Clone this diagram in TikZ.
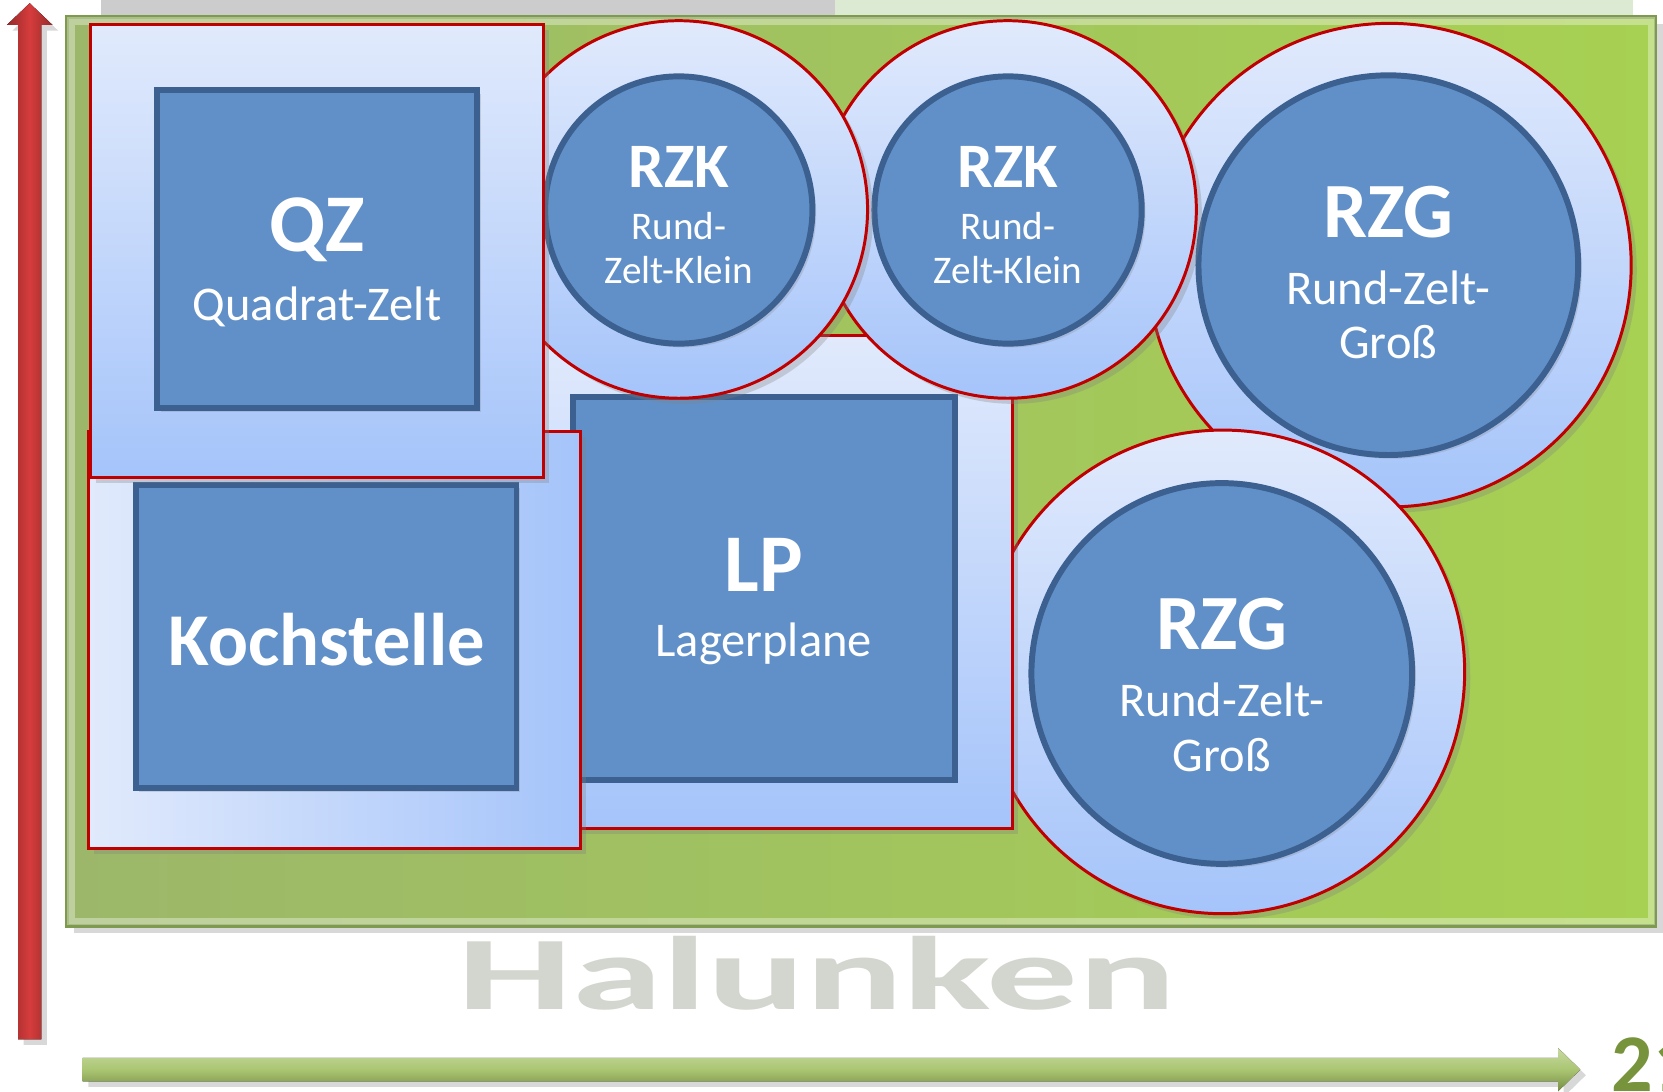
\documentclass[tikz,border=0pt]{standalone}
\usepackage{fontspec}
\setmainfont{Carlito}
\usepackage{graphicx}
\usetikzlibrary{shadows}

\definecolor{zeltrot}{HTML}{C00000}
\definecolor{ringhell}{HTML}{E1EAFC}
\definecolor{ringblau}{HTML}{A5C4FA}
\definecolor{kernblau}{HTML}{6190C8}
\definecolor{kernrand}{HTML}{3C6191}
\definecolor{feldlinks}{HTML}{9CB76A}
\definecolor{feldrechts}{HTML}{A7D152}
\definecolor{feldrand}{HTML}{7E9A4C}
\definecolor{pfeilrot}{HTML}{D63C3C}
\definecolor{pfeilgruen}{HTML}{9BBB59}
\definecolor{olivtext}{HTML}{77933C}
\definecolor{wzgruen}{HTML}{DCEAD3}
\definecolor{wzgrau}{HTML}{D2D6CF}

\tikzset{
  schatten/.style={drop shadow={shadow xshift=1.5pt, shadow yshift=-1.5pt, opacity=0.3}},
  ring/.style={circle, draw=zeltrot, line width=0.8pt, top color=ringhell, bottom color=ringblau, inner sep=0pt, schatten},
  platz/.style={rectangle, draw=zeltrot, line width=0.8pt, top color=ringhell, bottom color=ringblau, inner sep=0pt, schatten},
  kern/.style={draw=kernrand, line width=1.6pt, fill=kernblau, inner sep=0pt, drop shadow={shadow xshift=1pt, shadow yshift=-1pt, opacity=0.25}},
  schrift/.style={text=white, align=center, inner sep=0pt},
}

\begin{document}
\begin{tikzpicture}[x=0.1mm, y=-0.1mm]
  \useasboundingbox (0,0) rectangle (1568,1029);
  \fill[white] (0,0) rectangle (1568,1029);

  % Wasserzeichen
  \fill[black!20] (95,0) rectangle (787,16);
  \fill[wzgruen] (787,0) rectangle (1540,16);
  \node[anchor=base, text=wzgrau, font=\bfseries\fontsize{28}{28}\selectfont] (logo) at (770,952) {\scalebox{1.75}[1]{Halunken}};

  % Feld und Achsen
  \draw[draw=feldrand, line width=1pt, left color=feldlinks, right color=feldrechts, drop shadow={shadow xshift=2pt, shadow yshift=-2pt, opacity=0.3}] (63,16) rectangle (1561,873);
  \draw[white, opacity=0.35, line width=2pt] (67,20) rectangle (1557,869);
  \fill[left color=pfeilrot!70!black, right color=pfeilrot!70!black, middle color=pfeilrot, schatten] (17,980) -- (17,23.5) -- (6.5,23.5) -- (28,3) -- (49.5,23.5) -- (39,23.5) -- (39,980) -- cycle;
  \fill[top color=pfeilgruen!55!white, bottom color=pfeilgruen!75!black, middle color=pfeilgruen!85!white, schatten] (78,997.5) -- (1469,997.5) -- (1469,988) -- (1490,1008.5) -- (1469,1029) -- (1469,1019.5) -- (78,1019.5) -- cycle;

  % Rund-Zelt-Gross
  \node[ring, minimum size=4.56cm] (rzg1-ring) at (1310,250) {};
  \node[kern, circle, minimum size=3.58cm] (rzg1) at (1309,250) {};
  \node[schrift, font=\fontsize{13}{14.6}\selectfont] (rzg1-text) at (1309,257) {{\bfseries\fontsize{21}{21}\selectfont RZG}\\[3.4pt] Rund-Zelt-\\Groß};

  \node[ring, minimum size=4.56cm] (rzg2-ring) at (1153,633.5) {};
  \node[kern, circle, minimum size=3.59cm] (rzg2) at (1152,635) {};
  \node[schrift, font=\fontsize{13}{14.6}\selectfont] (rzg2-text) at (1152,646) {{\bfseries\fontsize{21}{21}\selectfont RZG}\\[3.4pt] Rund-Zelt-\\Groß};

  % Lagerplane
  \node[platz, minimum width=4.55cm, minimum height=4.65cm] (lp-platz) at (727.5,548.5) {};
  \node[kern, minimum width=3.6cm, minimum height=3.61cm] (lp) at (720,554.5) {};
  \node[schrift, font=\fontsize{13}{15.6}\selectfont] (lp-text) at (720,567) {{\bfseries\fontsize{22}{22}\selectfont LP}\\[1.8pt] Lagerplane};

  % Kochstelle
  \node[platz, left color=ringhell, right color=ringblau, minimum width=4.64cm, minimum height=3.93cm] (koch-platz) at (315,603.5) {};
  \node[kern, minimum width=3.59cm, minimum height=2.86cm] (koch) at (307.5,600) {};
  \node[schrift, font=\bfseries\fontsize{20}{24}\selectfont] (koch-text) at (308,603) {Kochstelle};

  % Rund-Zelt-Klein
  \node[ring, minimum size=3.56cm] (rzk2-ring) at (950,197.5) {};
  \node[kern, circle, minimum size=2.52cm] (rzk2) at (950.5,198) {};
  \node[schrift, font=\fontsize{10.5}{12}\selectfont] (rzk2-text) at (950.5,203) {{\bfseries\fontsize{17}{17}\selectfont RZK}\\[1.8pt] Rund-\\Zelt-Klein};

  \node[ring, minimum size=3.56cm] (rzk1-ring) at (640,197.5) {};
  \node[kern, circle, minimum size=2.52cm] (rzk1) at (640,198) {};
  \node[schrift, font=\fontsize{10.5}{12}\selectfont] (rzk1-text) at (640,203) {{\bfseries\fontsize{17}{17}\selectfont RZK}\\[1.8pt] Rund-\\Zelt-Klein};

  % Quadrat-Zelt
  \node[platz, minimum width=4.27cm, minimum height=4.27cm] (qz-platz) at (298.5,236.5) {};
  \node[kern, minimum width=3.02cm, minimum height=3cm] (qz) at (299,235) {};
  \node[schrift, font=\fontsize{13}{15.6}\selectfont] (qz-text) at (299,247) {{\bfseries\fontsize{22}{22}\selectfont QZ}\\[2.9pt] Quadrat-Zelt};

  \node[anchor=base west, inner sep=0pt, text=olivtext, font=\bfseries\fontsize{22}{22}\selectfont] (laenge) at (1519,1029) {21};
\end{tikzpicture}
\end{document}
